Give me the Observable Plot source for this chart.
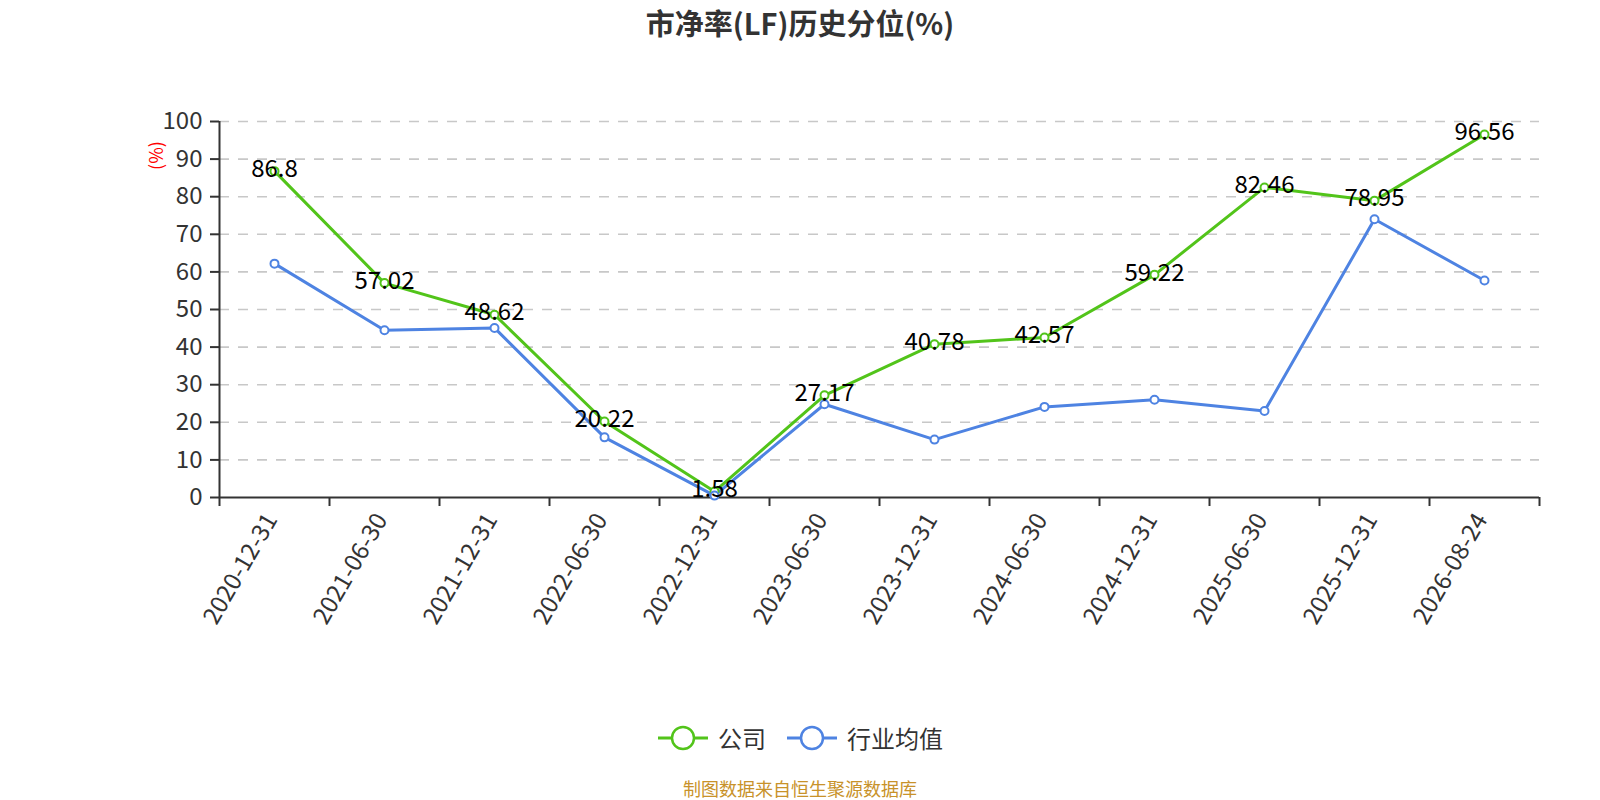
<!DOCTYPE html>
<html>
<head>
<meta charset="utf-8">
<script src="https://cdn.jsdelivr.net/npm/d3@7"></script>
<script src="https://cdn.jsdelivr.net/npm/@observablehq/plot@0.6"></script>
<style>
  html, body { margin: 0; padding: 0; background: #fff; }
  #wrap { position: relative; width: 1600px; height: 800px; overflow: hidden; font-family: "Noto Sans CJK SC", "Noto Sans", sans-serif; }
  #title { position: absolute; left: 0; top: 0; width: 1600px; height: 45px; line-height: 45px; text-align: center; font-size: 29px; font-weight: bold; color: #333; }
  #chart { position: absolute; left: 0; top: 0; }
  .leg { position: absolute; top: 722px; height: 32px; line-height: 32px; font-size: 24px; color: #333; }
  .leg svg { position: absolute; top: 0; left: 0; }
  #caption { position: absolute; left: 0; top: 778px; width: 1600px; text-align: center; font-size: 18px; line-height: 20px; color: #c8922a; }
</style>
</head>
<body>
<div id="wrap">
  <div id="title">市净率(LF)历史分位(%)</div>
  <div id="chart"></div>
  <div id="legend"></div>
  <div id="caption">制图数据来自恒生聚源数据库</div>
</div>
<script>
const dates = ["2020-12-31","2021-06-30","2021-12-31","2022-06-30","2022-12-31","2023-06-30","2023-12-31","2024-06-30","2024-12-31","2025-06-30","2025-12-31","2026-08-24"];
const company = [86.8, 57.02, 48.62, 20.22, 1.58, 27.17, 40.78, 42.57, 59.22, 82.46, 78.95, 96.56];
const industry = [62.2, 44.5, 45.1, 16.0, 0.5, 24.8, 15.4, 24.1, 26.0, 23.0, 74.0, 57.7];
const yTicks = [0, 10, 20, 30, 40, 50, 60, 70, 80, 90, 100];
const seriesNames = ["公司", "行业均值"];
const colors = ["#52c41a", "#4e83e2"];

const idx = dates.map((d, i) => i);
const bounds = dates.map((d, i) => i - 0.5).concat([dates.length - 0.5]);
const rows = dates.map((d, i) => ({i, date: d, company: company[i], industry: industry[i]}));

const chart = Plot.plot({
  width: 1600,
  height: 800,
  marginLeft: 219,
  marginRight: 61,
  marginTop: 121,
  marginBottom: 303,
  style: {fontFamily: "'Noto Sans CJK SC', 'Noto Sans', sans-serif", fontSize: "24px", color: "#333", background: "transparent", overflow: "visible"},
  x: {type: "linear", domain: [-0.5, dates.length - 0.5]},
  y: {domain: [0, 100]},
  marks: [
    Plot.gridY(yTicks.filter(t => t > 0), {stroke: "#c8c8c8", strokeOpacity: 1, strokeWidth: 1.6, strokeDasharray: "10,9"}),
    Plot.axisY(yTicks, {tickSize: 9, tickPadding: 8, fontSize: 24, stroke: "#333", strokeWidth: 2, fill: "#333", label: null, tickFormat: d => String(d)}),
    Plot.axisX(idx, {tickSize: 0, tickPadding: 18, dx: -3, tickRotate: -60, tickFormat: i => dates[i], label: null, fontSize: 24, fill: "#333"}),
    Plot.axisX(bounds, {tickSize: 9, tickFormat: () => "", stroke: "#333", strokeWidth: 2, label: null}),
    Plot.ruleY([0], {stroke: "#333", strokeWidth: 2}),
    Plot.ruleX([-0.5], {stroke: "#333", strokeWidth: 2}),
    Plot.lineY(rows, {x: "i", y: "company", stroke: colors[0], strokeWidth: 3}),
    Plot.lineY(rows, {x: "i", y: "industry", stroke: colors[1], strokeWidth: 3}),
    Plot.dot(rows, {x: "i", y: "company", r: 4, fill: "white", stroke: colors[0], strokeWidth: 2}),
    Plot.dot(rows, {x: "i", y: "industry", r: 4, fill: "white", stroke: colors[1], strokeWidth: 2}),
    Plot.text(rows, {x: "i", y: "company", text: d => String(d.company), dy: -2, fontSize: 24, fill: "#000", lineAnchor: "middle"}),
    Plot.text(["(%)"], {frameAnchor: "top-left", dx: -62, dy: 34, rotate: -90, text: d => d, fill: "red", fontSize: 18, textAnchor: "middle", lineAnchor: "middle"})
  ]
});
document.getElementById("chart").appendChild(chart);

// legend
const legend = document.getElementById("legend");
const legPos = [[658, 718], [787, 847]];
seriesNames.forEach((name, k) => {
  const item = document.createElement("div");
  item.className = "leg";
  item.style.left = legPos[k][0] + "px";
  item.style.width = (legPos[k][1] - legPos[k][0] + 120) + "px";
  item.innerHTML = `<svg width="50" height="32"><line x1="0" x2="50" y1="16" y2="16" stroke="${colors[k]}" stroke-width="3"/><circle cx="25" cy="16" r="11" fill="white" stroke="${colors[k]}" stroke-width="2.5"/></svg><span style="position:absolute;left:${legPos[k][1] - legPos[k][0]}px;top:0;white-space:nowrap">${name}</span>`;
  legend.appendChild(item);
});
</script>
</body>
</html>
